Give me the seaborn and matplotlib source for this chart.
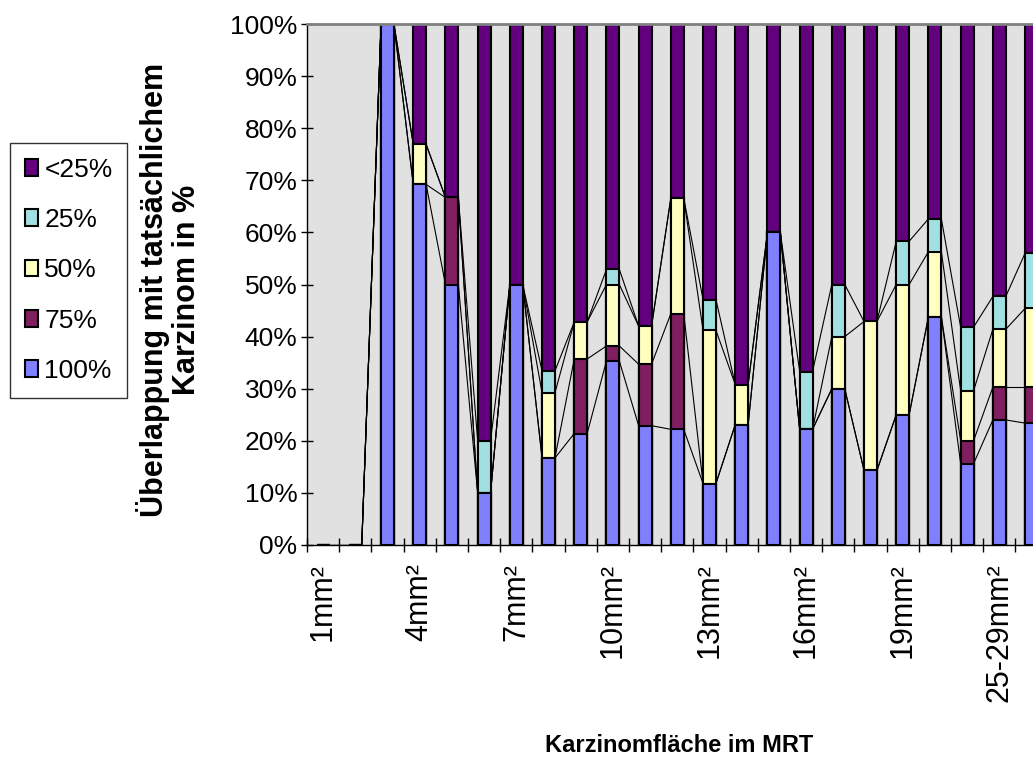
import numpy as np
import matplotlib
matplotlib.use("Agg")
import matplotlib.pyplot as plt
from matplotlib.patches import Patch
import seaborn as sns

# Tumour area classes (x axis)
categories = [
    "1mm²", "2mm²", "3mm²", "4mm²", "5mm²", "6mm²", "7mm²", "8mm²", "9mm²",
    "10mm²", "11mm²", "12mm²", "13mm²", "14mm²", "15mm²", "16mm²", "17mm²",
    "18mm²", "19mm²", "20-22mm²", "23-24mm²", "25-29mm²", "30-39mm²",
]
label_every = 3

# Share of cases per overlap class (percent of each area class)
overlap_100 = [0, 0, 100, 69.2, 50, 10, 50, 16.7, 21.4, 35.3, 22.9, 22.2,
               11.8, 23.1, 60, 22.2, 30, 14.3, 25, 43.8, 15.6, 24.0, 23.4]
overlap_75 = [0, 0, 0, 0, 16.7, 0, 0, 0, 14.3, 2.9, 11.8, 22.2,
              0, 0, 0, 0, 0, 0, 0, 0, 4.4, 6.3, 6.9]
overlap_50 = [0, 0, 0, 7.7, 0, 0, 0, 12.5, 7.1, 11.8, 7.3, 22.2,
              29.4, 7.7, 0, 0, 10, 28.6, 25, 12.5, 9.6, 11.1, 15.1]
overlap_25 = [0, 0, 0, 0, 0, 10, 0, 4.2, 0, 2.9, 0, 0,
              5.9, 0, 0, 11.1, 10, 0, 8.3, 6.3, 12.2, 6.3, 10.6]
overlap_lt25 = [0, 0, 0, 23.1, 33.3, 80, 50, 66.6, 57.2, 47.1, 58.0, 33.4,
                52.9, 69.2, 40, 66.7, 50, 57.1, 41.7, 37.4, 58.2, 52.3, 44.0]

series_labels = ["100%", "75%", "50%", "25%", "<25%"]
series_colors = ["#8080ff", "#7f1f5f", "#ffffc0", "#a0e0e0", "#62007e"]
y_ticks = [0, 10, 20, 30, 40, 50, 60, 70, 80, 90, 100]

sns.set_theme(style="white")
plt.rcParams["font.family"] = ["Liberation Sans", "DejaVu Sans"]
for key in ("text.color", "axes.labelcolor", "xtick.color", "ytick.color"):
    plt.rcParams[key] = "black"

W, H = 1033, 760
fig = plt.figure(figsize=(W / 100, H / 100), dpi=100)
ax = fig.add_axes([307 / W, 1 - 545 / H, 740.6 / W, 521 / H])
ax.set_facecolor("#e1e1e1")

series = np.array([overlap_100, overlap_75, overlap_50, overlap_25, overlap_lt25])
cumulative = np.cumsum(series, axis=0)
n = len(categories)
pos = np.arange(n)
bar_w = 0.4

# Series lines joining the top of each stacked segment from bar to bar
for cum in cumulative:
    for i in range(n - 1):
        ax.plot([pos[i] + bar_w / 2, pos[i + 1] - bar_w / 2],
                [cum[i], cum[i + 1]], color="black", lw=0.8, zorder=1)

# Stacked bars: draw running totals from the top layer down
for cum, color in zip(cumulative[::-1], series_colors[::-1]):
    sns.barplot(x=categories, y=cum, order=categories, color=color,
                saturation=1, width=bar_w, edgecolor="black", linewidth=1.5,
                errorbar=None, ax=ax, zorder=2)

ax.set_xlim(-0.5, n - 0.5)
ax.set_ylim(0, 100)

# X axis: labels at category centres, ticks at category boundaries
ax.set_xticks(pos)
ax.set_xticklabels([c if i % label_every == 0 else "" for i, c in enumerate(categories)],
                   rotation=90, fontsize=22, va="top", ha="center")
ax.tick_params(axis="x", which="major", length=0, pad=13, bottom=True)
ax.set_xticks(np.arange(n + 1) - 0.5, minor=True)
ax.tick_params(axis="x", which="minor", direction="inout", length=10,
               width=1, color="black", bottom=True)

ax.set_yticks(y_ticks)
ax.set_yticklabels([f"{v}%" for v in y_ticks], fontsize=19)
ax.tick_params(axis="y", direction="inout", length=8, width=1, color="black",
               left=True, pad=3)

for side in ("left", "bottom"):
    ax.spines[side].set_color("black")
    ax.spines[side].set_linewidth(1)
ax.spines["top"].set_color("#808080")
ax.spines["top"].set_linewidth(2)
ax.spines["right"].set_visible(False)

ax.set_xlabel("Karzinomfläche im MRT", fontsize=17, fontweight="bold",
              va="center")
ax.xaxis.set_label_coords(0.503, -0.384)
ax.set_ylabel("Überlappung mit tatsächlichem\nKarzinom in %", fontsize=22,
              fontweight="bold", va="center", ha="center", linespacing=1.1)
ax.yaxis.set_label_coords(-0.186, 0.49)

handles = [Patch(facecolor=c, edgecolor="black", linewidth=1.5, label=l)
           for l, c in zip(series_labels[::-1], series_colors[::-1])]
leg = fig.legend(handles=handles, loc="upper left",
                 bbox_to_anchor=(10 / W, 1 - 143 / H),
                 bbox_transform=fig.transFigure,
                 prop={"size": 19},
                 handlelength=0.5, handleheight=0.6, handletextpad=0.25,
                 labelspacing=1.0, borderpad=0.55, borderaxespad=0,
                 frameon=True, fancybox=False, shadow=False)
leg.get_frame().set_edgecolor("black")
leg.get_frame().set_linewidth(1)
leg.get_frame().set_facecolor("white")

fig.savefig("out.png", dpi=100)
